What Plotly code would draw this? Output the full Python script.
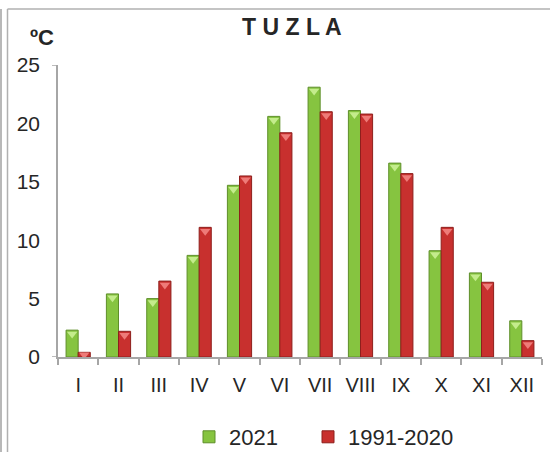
import plotly.graph_objects as go

months = ["I", "II", "III", "IV", "V", "VI", "VII", "VIII", "IX", "X", "XI", "XII"]
t2021 = [2.3, 5.4, 5.0, 8.7, 14.7, 20.6, 23.1, 21.1, 16.6, 9.1, 7.2, 3.1]
t1991_2020 = [0.4, 2.2, 6.5, 11.1, 15.5, 19.2, 21.0, 20.8, 15.7, 11.1, 6.4, 1.4]
y_ticks = [0, 5, 10, 15, 20, 25]

W, H = 550, 452
ML, MR, MT, MB = 58, 8, 65, 95
PW, PH = W - ML - MR, H - MT - MB

def px(x):
    return (x - ML) / PW

def py(y):
    return (H - MB - y) / PH

FONT = "Liberation Sans, Arial, sans-serif"
BARGAP = 0.4
n = len(months)
half = (1 - BARGAP) / 4
idx = list(range(n))
TRI_DROP = 0.33

fig = go.Figure()
fig.add_trace(go.Bar(
    x=months, y=t2021, name="2021", legend="legend",
    marker=dict(color="#86C440", line=dict(color="#5E8F2A", width=1)),
))
fig.add_trace(go.Bar(
    x=months, y=t1991_2020, name="1991-2020", legend="legend2",
    marker=dict(color="#C8302E", line=dict(color="#8E1F1C", width=1)),
))
fig.add_trace(go.Scatter(
    x=[i - half for i in idx], y=[v - TRI_DROP for v in t2021], xaxis="x2",
    mode="markers", marker=dict(symbol="triangle-down", size=9, color="#C4EC8C", line=dict(width=0)),
    showlegend=False, hoverinfo="skip", cliponaxis=False,
))
fig.add_trace(go.Scatter(
    x=[i + half for i in idx], y=[max(v - TRI_DROP, 0.2) for v in t1991_2020], xaxis="x2",
    mode="markers", marker=dict(symbol="triangle-down", size=9, color="#EE7B78", line=dict(width=0)),
    showlegend=False, hoverinfo="skip", cliponaxis=False,
))

legend_common = dict(orientation="h", yanchor="middle", y=py(437),
                     font=dict(size=22, color="#262626"), bgcolor="rgba(0,0,0,0)",
                     itemwidth=30, xanchor="left")

fig.update_layout(
    width=W, height=H,
    margin=dict(l=ML, r=MR, t=MT, b=MB, autoexpand=False),
    paper_bgcolor="white", plot_bgcolor="white",
    barmode="group", bargap=BARGAP, bargroupgap=0.0,
    font=dict(family=FONT, color="#262626"),
    showlegend=True,
    legend=dict(x=px(189), **legend_common),
    legend2=dict(x=px(308), **legend_common),
    xaxis=dict(type="category", showgrid=False, showline=True, linecolor="#A6A6A6", linewidth=1.5,
               ticks="outside", tickson="boundaries", ticklen=6, tickcolor="#A6A6A6", tickwidth=1.5,
               tickfont=dict(size=20, color="#262626"), tickangle=0, ticklabelstandoff=9,
               automargin=False),
    xaxis2=dict(overlaying="x", range=[-0.5, n - 0.5], visible=False, automargin=False),
    yaxis=dict(range=[0, 25], tickvals=y_ticks, showgrid=False, zeroline=False,
               showline=True, linecolor="#A6A6A6", linewidth=1.5, ticks="",
               tickfont=dict(size=21, color="#262626"), ticklabelstandoff=12, automargin=False),
    annotations=[
        dict(text="<b>T U Z L A</b>", xref="paper", yref="paper", x=px(292), y=py(27),
             showarrow=False, font=dict(size=23, color="#262626"), xanchor="center", yanchor="middle"),
        dict(text="<b>ºC</b>", xref="paper", yref="paper", x=px(42), y=py(37),
             showarrow=False, font=dict(size=22, color="#262626"), xanchor="center", yanchor="middle"),
    ],
    shapes=[
        dict(type="line", xref="paper", yref="paper", x0=px(1), x1=px(1), y0=py(9), y1=py(H),
             line=dict(color="#A0A0A0", width=1.5)),
        dict(type="line", xref="paper", yref="paper", x0=px(7.5), x1=px(7.5), y0=py(9), y1=py(H),
             line=dict(color="#B0B0B0", width=1.5)),
        dict(type="line", xref="paper", yref="paper", x0=px(7.5), x1=px(W), y0=py(9), y1=py(9),
             line=dict(color="#B0B0B0", width=1.5)),
        dict(type="line", xref="paper", yref="y", x0=px(52), x1=0, y0=25, y1=25,
             line=dict(color="#A6A6A6", width=1.5)),
        dict(type="line", xref="paper", yref="y", x0=px(52), x1=0, y0=0, y1=0,
             line=dict(color="#A6A6A6", width=1.5)),
    ],
)

fig.write_html("out.html", config={"displayModeBar": False},
               post_script="document.body.style.margin='0';")
